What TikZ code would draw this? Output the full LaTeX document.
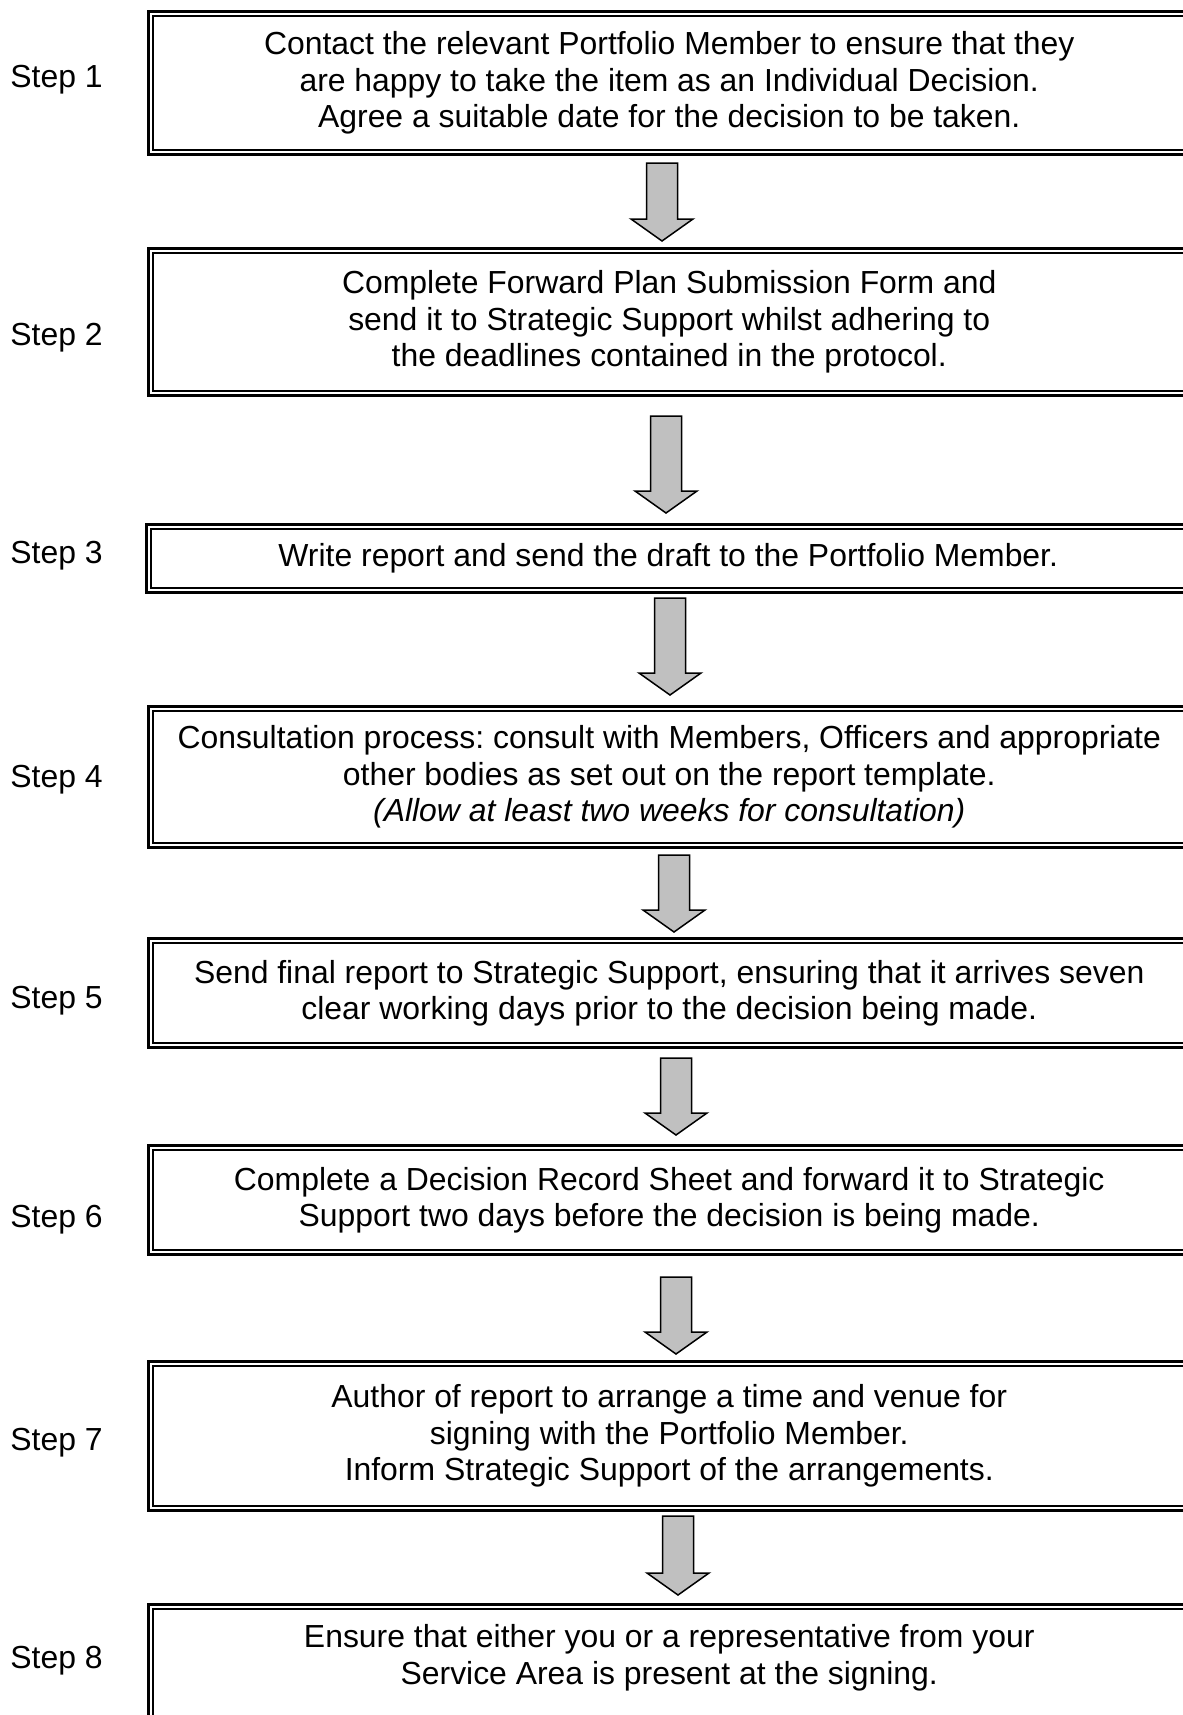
\documentclass[tikz,border=0pt]{standalone}
\usepackage{fontspec}
\setmainfont{Liberation Sans}
\frenchspacing
\definecolor{arrowgray}{HTML}{C0C0C0}
\newcommand{\boxfont}{\fontsize{15.95}{18.25}\selectfont}

\tikzset{
  stepbox/.style={draw, line width=1.5pt, inner sep=0pt, outer sep=0pt, align=center, font=\boxfont, minimum width=520.75pt},
  innerframe/.style={line width=0.75pt},
  steplabel/.style={anchor=base west, inner sep=0pt, font=\boxfont},
  blkarrow/.style={draw, fill=arrowgray, line width=0.75pt, line join=miter},
}

\begin{document}
\begin{tikzpicture}[x=0.5pt, y=-0.5pt]
\useasboundingbox (0,0) rectangle (1183,1715);
\fill[white] (0,0) rectangle (1183,1715);
\clip (0,0) rectangle (1183,1715);

% boxes
\node[stepbox, minimum height=71.5pt] (s1) at (669.25,83) {Contact the relevant Portfolio Member to ensure that they\\are happy to take the item as an Individual Decision.\\Agree a suitable date for the decision to be taken.};
\node[stepbox, minimum height=73.5pt] (s2) at (669.25,322) {Complete Forward Plan Submission Form and\\send it to Strategic Support whilst adhering to\\the deadlines contained in the protocol.};
\node[stepbox, minimum height=34pt, minimum width=521.75pt] (s3) at (668.25,558.5) {Write report and send the draft to the Portfolio Member.};
\node[stepbox, minimum height=70.5pt] (s4) at (669.25,777) {Consultation process: consult with Members, Officers and appropriate\\other bodies as set out on the report template.\\\textit{(Allow at least two weeks for consultation)}};
\node[stepbox, minimum height=54.5pt] (s5) at (669.25,993) {Send final report to Strategic Support, ensuring that it arrives seven\\clear working days prior to the decision being made.};
\node[stepbox, minimum height=54.5pt] (s6) at (669.25,1200) {Complete a Decision Record Sheet and forward it to Strategic\\Support two days before the decision is being made.};
\node[stepbox, minimum height=74.5pt] (s7) at (669.25,1436) {Author of report to arrange a time and venue for\\signing with the Portfolio Member.\\Inform Strategic Support of the arrangements.};
\node[stepbox, minimum height=62.75pt, text depth=13pt] (s8) at (669.25,1667.25) {Ensure that either you or a representative from your\\Service Area is present at the signing.};

\foreach \i in {1,...,8}
  \draw[innerframe] ([xshift=2.35pt,yshift=-2.35pt]s\i.north west) rectangle ([xshift=-2.35pt,yshift=2.35pt]s\i.south east);

% step labels
\node[steplabel] (l1) at (10,87) {Step 1};
\node[steplabel] (l2) at (10,345) {Step 2};
\node[steplabel] (l3) at (10,563) {Step 3};
\node[steplabel] (l4) at (10,787) {Step 4};
\node[steplabel] (l5) at (10,1008) {Step 5};
\node[steplabel] (l6) at (10,1227) {Step 6};
\node[steplabel] (l7) at (10,1450) {Step 7};
\node[steplabel] (l8) at (10,1668) {Step 8};

% block arrows: x / top / tip
\foreach \x/\t/\h in {662/163/241, 666/416/513, 670/598/695, 674/855/932, 676/1058/1135, 676/1277/1354, 678/1516/1595}
  \draw[blkarrow] (\x-15.5,\t) -- (\x+15.5,\t) -- (\x+15.5,\h-22) -- (\x+31,\h-22) -- (\x,\h) -- (\x-31,\h-22) -- (\x-15.5,\h-22) -- cycle;

\end{tikzpicture}
\end{document}
